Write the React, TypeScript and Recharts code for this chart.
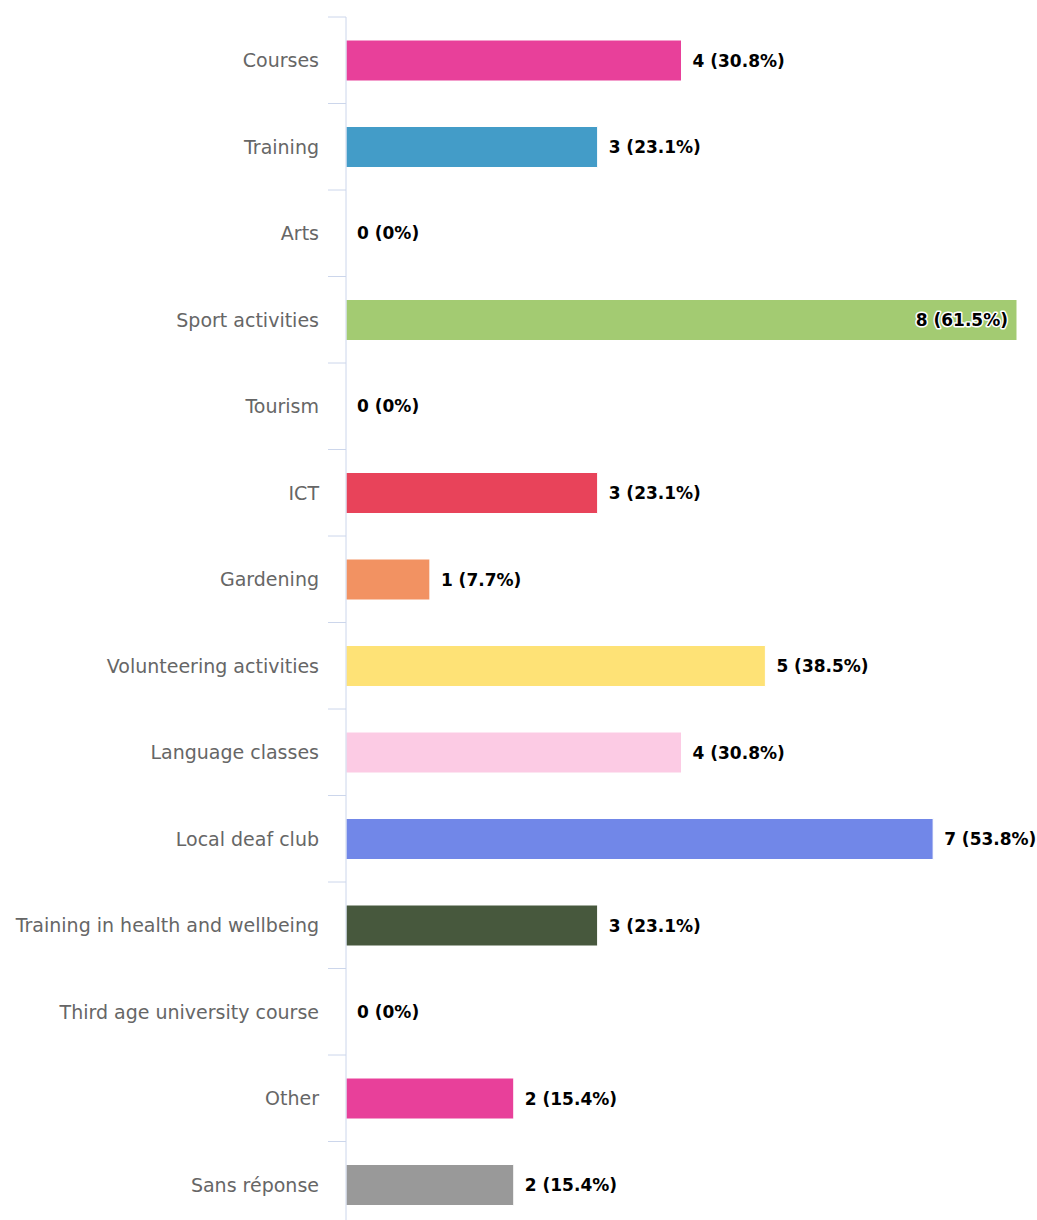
import { BarChart, Bar, XAxis, YAxis, Cell, LabelList } from 'recharts'

const categories = [
  'Courses',
  'Training',
  'Arts',
  'Sport activities',
  'Tourism',
  'ICT',
  'Gardening',
  'Volunteering activities',
  'Language classes',
  'Local deaf club',
  'Training in health and wellbeing',
  'Third age university course',
  'Other',
  'Sans réponse',
]
const counts = [4, 3, 0, 8, 0, 3, 1, 5, 4, 7, 3, 0, 2, 2]
const percents = ['30.8%', '23.1%', '0%', '61.5%', '0%', '23.1%', '7.7%', '38.5%', '30.8%', '53.8%', '23.1%', '0%', '15.4%', '15.4%']
const colors = [
  '#e8409a', '#439cc8', '#e8409a', '#a3cb72', '#e8409a', '#e8435a', '#f29262',
  '#fee276', '#fccbe4', '#7187e8', '#47583d', '#e8409a', '#e8409a', '#999999',
]

const WIDTH = 1037
const HEIGHT = 1245
const MARGIN = { top: 17, right: 20, bottom: 17, left: 0 }
const AXIS_W = 346
const band = (HEIGHT - MARGIN.top - MARGIN.bottom) / categories.length
const maxCount = Math.max(...counts)
const FONT = '"DejaVu Sans", Verdana, sans-serif'

const data = categories.map((name, i) => ({ name, count: counts[i], pct: percents[i] }))

function labelText(i: number) {
  return `${counts[i]} (${percents[i]})`
}

function ValueText({ x, y, anchor, i }: { x: number; y: number; anchor: 'start' | 'end'; i: number }) {
  const inside = anchor === 'end'
  return (
    <text
      x={x}
      y={y}
      textAnchor={anchor}
      dominantBaseline="central"
      fill="#000000"
      stroke={inside ? '#ffffff' : 'none'}
      strokeWidth={inside ? 3 : 0}
      strokeLinejoin="round"
      paintOrder="stroke"
      fontSize={17}
      fontWeight="bold"
      fontFamily={FONT}
    >
      {labelText(i)}
    </text>
  )
}

// y-axis tick: category name, boundary tick mark, and the label of empty bars
function CategoryTick(props: any) {
  const { y, payload } = props
  const i = categories.indexOf(payload.value)
  return (
    <g>
      <line x1={AXIS_W - 18} x2={AXIS_W} y1={y - band / 2} y2={y - band / 2} stroke="#ccd6eb" strokeWidth={1} />
      <text x={AXIS_W - 27} y={y} textAnchor="end" dominantBaseline="central" fill="#666666" fontSize={19} fontFamily={FONT}>
        {payload.value}
      </text>
      {counts[i] === 0 && <ValueText x={AXIS_W + 11} y={y} anchor="start" i={i} />}
    </g>
  )
}

function ValueLabel(props: any) {
  const { x, y, width, height, value } = props
  const i = categories.indexOf(value)
  if (i < 0 || counts[i] === 0) return null
  const inside = counts[i] === maxCount
  return (
    <ValueText
      x={inside ? x + width - 9 : x + width + 11}
      y={y + height / 2}
      anchor={inside ? 'end' : 'start'}
      i={i}
    />
  )
}

export default function App() {
  return (
    <div style={{ width: WIDTH, height: 1220, overflow: 'hidden', background: '#fff' }}>
      <style>{'body{margin:0}'}</style>
      <BarChart
        width={WIDTH}
        height={HEIGHT}
        data={data}
        layout="vertical"
        margin={MARGIN}
        barCategoryGap={0}
        style={{ overflow: 'visible' }}
      >
        <XAxis type="number" domain={[0, 8]} hide />
        <YAxis
          type="category"
          dataKey="name"
          width={AXIS_W}
          axisLine={{ stroke: '#ccd6eb', strokeWidth: 1 }}
          tickLine={false}
          tick={<CategoryTick />}
          interval={0}
        />
        <Bar dataKey="count" barSize={41} isAnimationActive={false} stroke="#ffffff" strokeWidth={1}>
          {data.map((d, i) => (
            <Cell key={d.name} fill={colors[i]} />
          ))}
          <LabelList dataKey="name" content={<ValueLabel />} />
        </Bar>
      </BarChart>
    </div>
  )
}
